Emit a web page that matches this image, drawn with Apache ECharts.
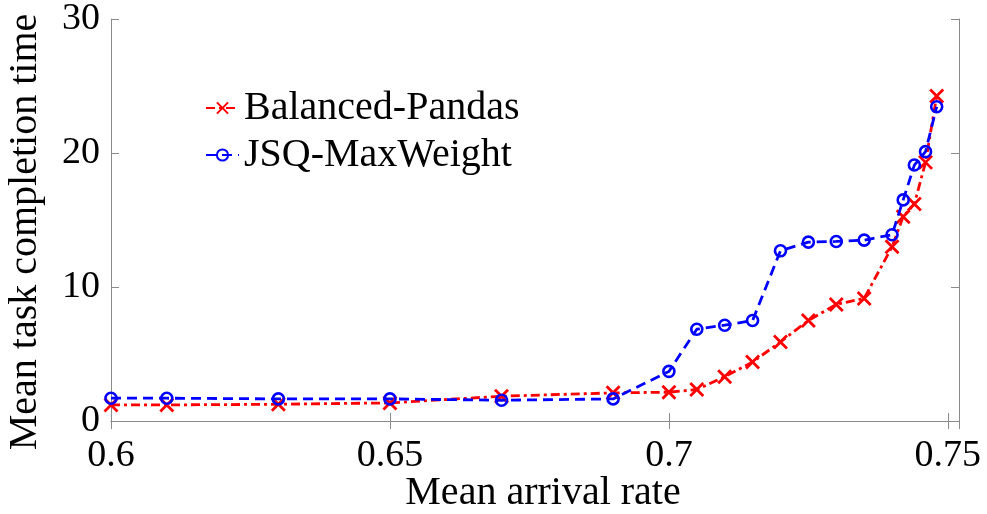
<!DOCTYPE html>
<html>
<head>
<meta charset="utf-8">
<script src="https://cdn.jsdelivr.net/npm/echarts@6/dist/echarts.min.js"></script>
<style>
html,body{margin:0;padding:0;background:#fff;}
#chart{width:987px;height:514px;}
</style>
</head>
<body>
<div id="chart"></div>
<script>
// ---- data ----
const xValues = [0.6, 0.61, 0.63, 0.65, 0.67, 0.69, 0.7, 0.705, 0.71, 0.715, 0.72, 0.725, 0.73, 0.735, 0.74, 0.742, 0.744, 0.746, 0.748];
const balancedPandas = [1.2, 1.2, 1.25, 1.35, 1.85, 2.1, 2.15, 2.35, 3.3, 4.4, 5.9, 7.5, 8.7, 9.15, 13.0, 15.25, 16.2, 19.3, 24.25];
const jsqMaxWeight = [1.7, 1.7, 1.65, 1.65, 1.55, 1.65, 3.7, 6.85, 7.15, 7.5, 12.7, 13.35, 13.4, 13.5, 13.9, 16.5, 19.1, 20.1, 23.45];
const seriesNames = ['Balanced-Pandas', 'JSQ-MaxWeight'];
const xTickValues = [0.6, 0.65, 0.7, 0.75];
const yTickValues = [0, 10, 20, 30];
const xTitle = 'Mean arrival rate';
const yTitle = 'Mean task completion time';

const FONT = 'Liberation Serif';
const AXIS_COLOR = '#8a8a8a';
const pair = (ys) => xValues.map((x, i) => [x, ys[i]]);
const isTick = (v, list) => list.some(t => Math.abs(t - v) < 1e-6);

const chart = echarts.init(document.getElementById('chart'), null, {renderer: 'canvas'});
const axisCommon = {
  axisLine: {show: true, lineStyle: {color: AXIS_COLOR, width: 1}},
  axisTick: {show: true, inside: true, length: 8, lineStyle: {color: AXIS_COLOR, width: 1}},
  splitLine: {show: false}
};
chart.setOption({
  animation: false,
  backgroundColor: '#fff',
  grid: {left: 111, right: 28, top: 14, bottom: 93, containLabel: false},
  legend: {
    orient: 'vertical',
    left: 200,
    top: 83,
    itemWidth: 33,
    itemHeight: 14,
    itemGap: 7,
    data: seriesNames,
    textStyle: {fontFamily: FONT, fontSize: 40, lineHeight: 40, color: '#000'}
  },
  xAxis: [
    Object.assign({}, axisCommon, {
      type: 'value', position: 'bottom', min: 0.6, max: 0.752, interval: 0.05,
      axisLabel: {
        show: true, margin: 16, showMaxLabel: false,
        fontFamily: FONT, fontSize: 38, color: '#000',
        formatter: v => isTick(v, xTickValues) ? String(+v.toFixed(2)) : ''
      }
    }),
    Object.assign({}, axisCommon, {
      type: 'value', position: 'top', min: 0.6, max: 0.752, interval: 0.05,
      axisLabel: {show: false}
    })
  ],
  yAxis: [
    Object.assign({}, axisCommon, {
      type: 'value', position: 'left', min: 0, max: 30, interval: 10,
      axisLabel: {
        show: true, margin: 11, fontFamily: FONT, fontSize: 38, color: '#000',
        formatter: v => isTick(v, yTickValues) ? String(v) : ''
      }
    }),
    Object.assign({}, axisCommon, {
      type: 'value', position: 'right', min: 0, max: 30, interval: 10,
      axisLabel: {show: false}
    })
  ],
  graphic: [
    {type: 'text', x: 543, y: 493,
     style: {text: xTitle, fontFamily: FONT, fontSize: 40, fill: '#000', align: 'center', verticalAlign: 'middle'}},
    {type: 'text', x: 25, y: 232, rotation: Math.PI / 2,
     style: {text: yTitle, fontFamily: FONT, fontSize: 40, fill: '#000', align: 'center', verticalAlign: 'middle'}}
  ],
  series: [
    {
      name: seriesNames[0], type: 'line', xAxisIndex: 0, yAxisIndex: 0,
      data: pair(balancedPandas),
      symbol: 'path://M0,0L10,10M10,0L0,10', symbolSize: 13,
      showAllSymbol: true,
      lineStyle: {color: '#ff0000', width: 2.8, type: [9, 4, 3, 4]},
      itemStyle: {color: '#ff0000', borderColor: '#ff0000', borderWidth: 2.8},
      z: 2
    },
    {
      name: seriesNames[1], type: 'line', xAxisIndex: 0, yAxisIndex: 0,
      data: pair(jsqMaxWeight),
      symbol: 'circle', symbolSize: 11,
      showAllSymbol: true,
      lineStyle: {color: '#0000ff', width: 2.8, type: [10, 6]},
      itemStyle: {color: 'rgba(0,0,0,0)', borderColor: '#0000ff', borderWidth: 2.6},
      z: 3
    }
  ]
});
</script>
</body>
</html>
